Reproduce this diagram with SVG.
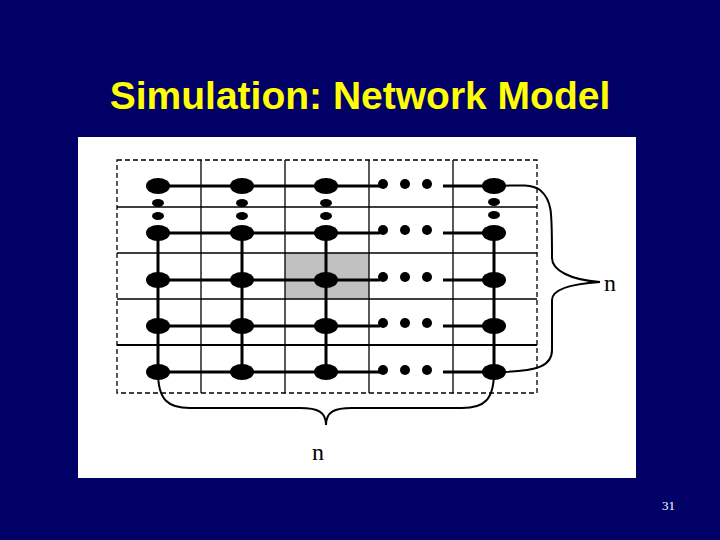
<svg xmlns="http://www.w3.org/2000/svg" width="720" height="540" viewBox="0 0 720 540">
<style>
.g{stroke:#000;stroke-width:1.3;fill:none}
.w{stroke:#000;stroke-width:3;fill:none}
.b{stroke:#000;stroke-width:2;fill:none}
.n{fill:#000}
</style>
<rect width="720" height="540" fill="#000066"/>
<text x="360" y="109" text-anchor="middle" font-family="Liberation Sans, Arial, sans-serif" font-weight="bold" font-size="39" fill="#ffff00">Simulation: Network Model</text>
<rect x="78" y="137" width="558" height="341" fill="#fff"/>
<rect x="285" y="253" width="84" height="46" fill="#c0c0c0"/>
<g id="grid">
<rect x="117" y="160" width="420" height="233" class="g" stroke-dasharray="5,3"/>
<path class="g" d="M201 160V393M285 160V393M369 160V393M453 160V393M117 207H537M117 253H537M117 299H537"/>
<path class="w" style="stroke-width:2" d="M117 345H537"/>
</g>
<g id="connectors">
<path class="w" d="M158 186H380M443 186H494M158 233H380M443 233H494M158 280H380M443 280H494M158 326H380M443 326H494M158 372H380M443 372H494"/>
<path class="w" d="M158 233V372M242 233V372M326 233V372M494 233V372"/>
<path class="b" d="M158 372C158 400 168 408 190 408H300C318 408 326 412 326 425C326 412 334 408 352 408H462C484 408 494 400 494 372"/>
<path class="b" d="M494 186C510 186 530 183 540 190C552 200 552 210 552 258C552 270 570 280 600 282C570 284 552 290 552 300V350C552 365 540 372 494 372"/>
</g>
<g id="nodes">
<g class="n">
<ellipse cx="158" cy="186" rx="12" ry="8"/><ellipse cx="242" cy="186" rx="12" ry="8"/><ellipse cx="326" cy="186" rx="12" ry="8"/><ellipse cx="494" cy="186" rx="12" ry="8"/>
<ellipse cx="158" cy="233" rx="12" ry="8"/><ellipse cx="242" cy="233" rx="12" ry="8"/><ellipse cx="326" cy="233" rx="12" ry="8"/><ellipse cx="494" cy="233" rx="12" ry="8"/>
<ellipse cx="158" cy="280" rx="12" ry="8"/><ellipse cx="242" cy="280" rx="12" ry="8"/><ellipse cx="326" cy="280" rx="12" ry="8"/><ellipse cx="494" cy="280" rx="12" ry="8"/>
<ellipse cx="158" cy="326" rx="12" ry="8"/><ellipse cx="242" cy="326" rx="12" ry="8"/><ellipse cx="326" cy="326" rx="12" ry="8"/><ellipse cx="494" cy="326" rx="12" ry="8"/>
<ellipse cx="158" cy="372" rx="12" ry="8"/><ellipse cx="242" cy="372" rx="12" ry="8"/><ellipse cx="326" cy="372" rx="12" ry="8"/><ellipse cx="494" cy="372" rx="12" ry="8"/>
<ellipse cx="158" cy="203" rx="6" ry="4"/><ellipse cx="158" cy="216" rx="6" ry="4"/>
<ellipse cx="242" cy="203" rx="6" ry="4"/><ellipse cx="242" cy="216" rx="6" ry="4"/>
<ellipse cx="326" cy="203" rx="6" ry="4"/><ellipse cx="326" cy="216" rx="6" ry="4"/>
<ellipse cx="494" cy="202" rx="6" ry="4"/><ellipse cx="494" cy="215" rx="6" ry="4"/>
<circle cx="383" cy="184" r="5"/><circle cx="405" cy="184" r="5"/><circle cx="427" cy="184" r="5"/>
<circle cx="383" cy="230" r="5"/><circle cx="405" cy="230" r="5"/><circle cx="427" cy="230" r="5"/>
<circle cx="383" cy="277" r="5"/><circle cx="405" cy="277" r="5"/><circle cx="427" cy="277" r="5"/>
<circle cx="383" cy="323" r="5"/><circle cx="405" cy="323" r="5"/><circle cx="427" cy="323" r="5"/>
<circle cx="383" cy="370" r="5"/><circle cx="405" cy="370" r="5"/><circle cx="427" cy="370" r="5"/>
</g>
</g>
<text x="604" y="291" font-family="Liberation Serif, serif" font-size="24" fill="#000">n</text>
<text x="312" y="460" font-family="Liberation Serif, serif" font-size="24" fill="#000">n</text>
<text x="662" y="510" font-family="Liberation Serif, serif" font-size="13" fill="#fff">31</text>
</svg>
